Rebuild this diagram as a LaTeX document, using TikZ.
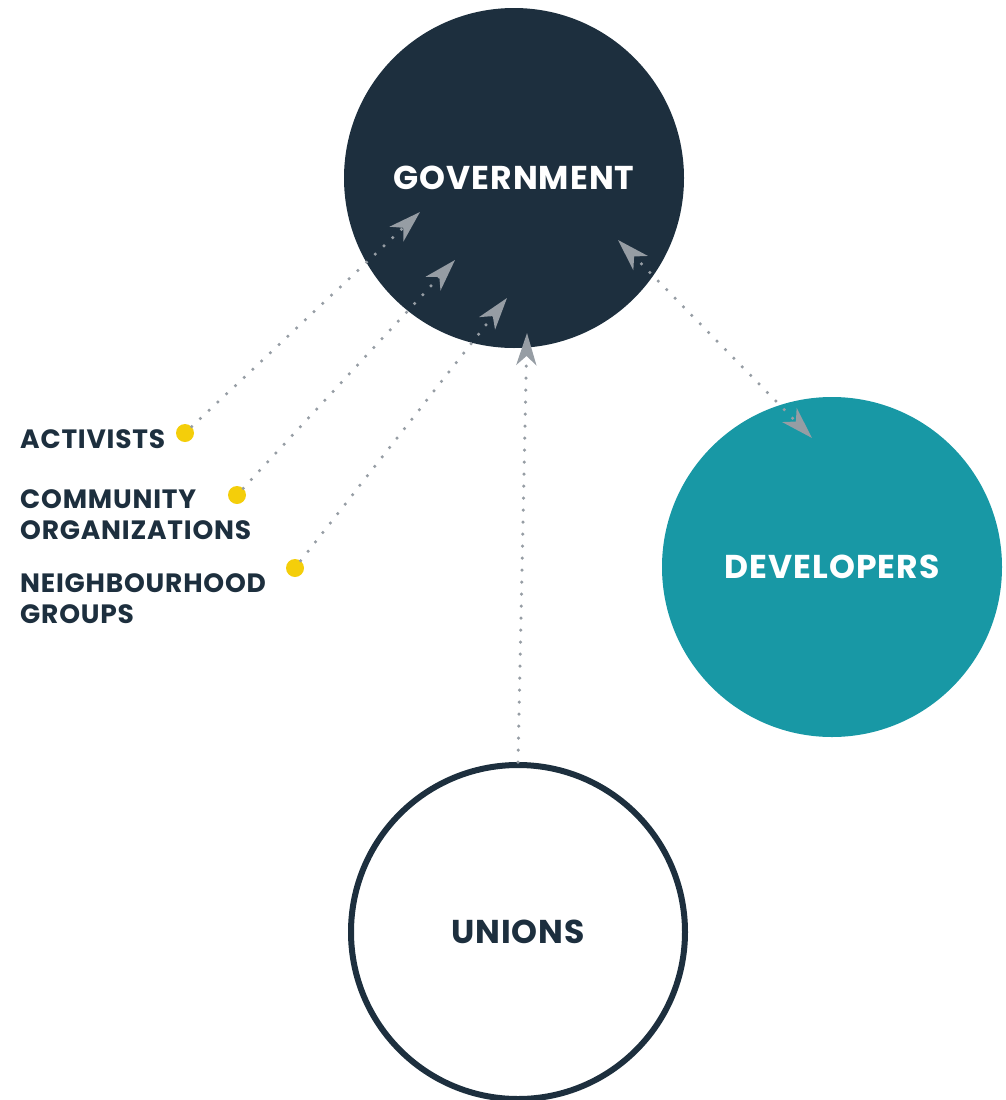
\documentclass[tikz,border=0pt]{standalone}
\usepackage{fontspec}
\setmainfont{Poppins}[LetterSpace=3]
\usepackage{tikz}
\usetikzlibrary{arrows.meta}
\usetikzlibrary{calc}
\definecolor{govblue}{HTML}{1D2F3E}
\definecolor{devteal}{HTML}{1898A5}
\definecolor{dotyellow}{HTML}{F4CE0A}
\definecolor{linkgrey}{HTML}{969DA4}

\begin{document}
\begin{tikzpicture}[x=1pt,y=-1pt]

        \tikzstyle{actor}  = [circle, minimum size=340pt, inner sep=0pt, font=\fontsize{33}{38}\selectfont\bfseries]
        \tikzstyle{group}  = [anchor=north west, align=left, inner sep=0pt, text=govblue, font=\fontsize{26.5}{31}\selectfont\bfseries]
        \tikzstyle{bullet} = [circle, minimum size=18pt, inner sep=0pt, fill=dotyellow]
        \tikzstyle{link}   = [linkgrey, line width=3.5pt, line cap=round, dash pattern=on 0pt off 12pt, -{Stealth[length=32pt, width=20pt, inset=9pt]}]
        \useasboundingbox (0,0) rectangle (1006,1100);
        \node [actor, fill=govblue, text=white](gov) at (514,178) {GOVERNMENT};
        \node [actor, fill=devteal, text=white](dev) at (832,567) {DEVELOPERS};
        \node [actor, draw=govblue, line width=6pt, minimum size=334pt, text=govblue](uni) at (518,932) {UNIONS};
        \node [group](act) at (20,429) {ACTIVISTS};
        \node [group](com) at (20,489) {COMMUNITY\\ORGANIZATIONS};
        \node [group](nei) at (20,573) {NEIGHBOURHOOD\\GROUPS};
        \node [bullet](actdot) at (185,433) {};
        \node [bullet](comdot) at (237,495) {};
        \node [bullet](neidot) at (295,568) {};
        \coordinate (acttip) at (420,212);
        \coordinate (comtip) at (455,260);
        \coordinate (neitip) at (507,298);
        \coordinate (unitip) at (527,333);
        \coordinate (govtip) at (618,240);
        \coordinate (devtip) at (812,438);
        \draw [link] (actdot) -- (acttip);
        \draw [link] (comdot) -- (comtip);
        \draw [link] (neidot) -- (neitip);
        \draw [link] (uni.north) -- (unitip);
        \draw [link, {Stealth[length=32pt, width=20pt, inset=9pt]}-{Stealth[length=32pt, width=20pt, inset=9pt]}] (govtip) -- (devtip);
\end{tikzpicture}
\end{document}
